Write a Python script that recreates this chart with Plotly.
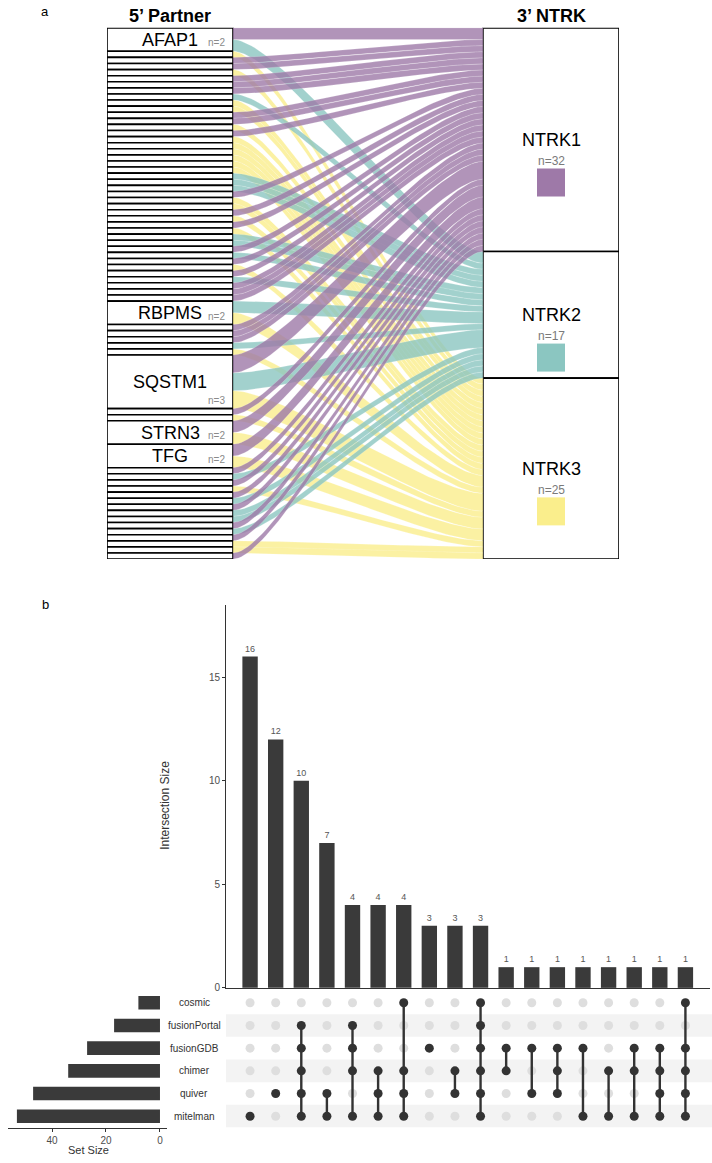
import numpy as np
import plotly.graph_objects as go

W, H = 712, 1163
FONT = "Liberation Sans, Arial, sans-serif"
NARROW = "Liberation Sans Narrow, Liberation Sans, Arial, sans-serif"

# ---------------- Panel a data ----------------
ntrk_genes = ["NTRK1", "NTRK2", "NTRK3"]
# 5' partners, top to bottom (unlabelled partners have a single fusion)
partner_labels = (["AFAP1"] + [""] * 41 + ["RBPMS"] + [""] * 5 + ["SQSTM1"]
                  + [""] * 2 + ["STRN3", "TFG"] + [""] * 15)
# NTRK target of each fusion of each partner ("1" = NTRK1, "2" = NTRK2, "3" = NTRK3)
group1 = list("3113111233" + "1131333333" + "2221331313" + "22121312111")
group2 = list("11123")
group3 = list("13")
group4 = list("121312122121331")
partner_targets = (["12"] + group1 + ["23"] + group2 + ["123"] + group3
                   + ["13", "13"] + group4)

# ---------------- Panel b data ----------------
set_names = ["cosmic", "fusionPortal", "fusionGDB", "chimer", "quiver", "mitelman"]
set_sizes = [8, 17, 27, 34, 47, 53]
intersection_sizes = [16, 12, 10, 7, 4, 4, 4, 3, 3, 3, 1, 1, 1, 1, 1, 1, 1, 1]
intersection_members = [
    ["mitelman"],
    ["quiver"],
    ["fusionPortal", "fusionGDB", "chimer", "quiver", "mitelman"],
    ["quiver", "mitelman"],
    ["fusionPortal", "fusionGDB", "chimer", "mitelman"],
    ["chimer", "quiver", "mitelman"],
    ["cosmic", "chimer", "quiver", "mitelman"],
    ["fusionGDB"],
    ["chimer", "quiver"],
    ["cosmic", "fusionPortal", "fusionGDB", "chimer", "quiver", "mitelman"],
    ["fusionGDB", "chimer"],
    ["fusionGDB", "quiver"],
    ["fusionGDB", "chimer", "quiver"],
    ["fusionGDB", "mitelman"],
    ["chimer", "mitelman"],
    ["fusionGDB", "chimer", "mitelman"],
    ["fusionGDB", "chimer", "quiver", "mitelman"],
    ["cosmic", "fusionGDB", "chimer", "quiver", "mitelman"],
]

# ---------------- styles ----------------
NTRK_RGB = [(158, 121, 168), (139, 198, 193), (250, 238, 140)]
BOX_UNITS = {1: 1.0, 2: 3.85, 3: 8.8}
L_BOX = (0.0, 126.0)
R_BOX = (376.0, 512.0)
KNOT = 0.2
DARK = "#3A3A3A"


def px_y(p):
    return 1 - p / H


def px_x(p):
    return p / W


def rgb(c, a=None):
    if a is None:
        return "rgb(%d,%d,%d)" % c
    return "rgba(%d,%d,%d,%.2f)" % (c[0], c[1], c[2], a)


fig = go.Figure()

# ---------------- Panel a geometry ----------------
n_per_partner = [len(t) for t in partner_targets]
heights = np.array([BOX_UNITS[n] for n in n_per_partner])
tops = np.concatenate([[0.0], np.cumsum(heights)[:-1]])
total_units = float(heights.sum())
ppu = (562 - 28) / total_units  # pixels per unit

flows = []
for i, targ in enumerate(partner_targets):
    w = heights[i] / len(targ)
    for j, g in enumerate(targ):
        flows.append(dict(gi=int(g) - 1, lt=tops[i] + j * w, w=w))

gene_tot = np.array([sum(f["w"] for f in flows if f["gi"] == k) for k in range(3)])
gene_top = np.concatenate([[0.0], np.cumsum(gene_tot)[:-1]])
gene_cnt = [sum(1 for f in flows if f["gi"] == k) for k in range(3)]
cursor = list(gene_top)
for f in sorted(flows, key=lambda f: f["lt"]):
    f["rt"] = cursor[f["gi"]]
    cursor[f["gi"]] += f["w"]

# cubic Bezier flow shape (short curved ends, straight middle)
u = np.linspace(0, 1, 60)
bx_ = 3 * u * (1 - u) ** 2 * KNOT + 3 * u ** 2 * (1 - u) * (1 - KNOT) + u ** 3
by_ = 3 * u ** 2 * (1 - u) + u ** 3
xs = L_BOX[1] + (R_BOX[0] - L_BOX[1]) * bx_
for f in flows:
    top_edge = f["lt"] + (f["rt"] - f["lt"]) * by_
    bot_edge = top_edge + f["w"]
    fig.add_trace(go.Scatter(
        x=np.concatenate([xs, xs[::-1]]),
        y=np.concatenate([top_edge, bot_edge[::-1]]),
        fill="toself", mode="lines",
        fillcolor=rgb(NTRK_RGB[f["gi"]], 0.8),
        line=dict(width=0.4, color="rgba(255,255,255,0.45)"),
        hoverinfo="skip", showlegend=False, xaxis="x", yaxis="y"))

# partner boxes
fig.add_trace(go.Bar(
    x=[(L_BOX[0] + L_BOX[1]) / 2] * len(heights), y=heights, base=tops,
    width=L_BOX[1] - L_BOX[0],
    marker=dict(color="white", line=dict(color="black", width=1.6)),
    hoverinfo="skip", showlegend=False, xaxis="x", yaxis="y"))
# NTRK boxes
fig.add_trace(go.Bar(
    x=[(R_BOX[0] + R_BOX[1]) / 2] * 3, y=gene_tot, base=gene_top,
    width=R_BOX[1] - R_BOX[0],
    marker=dict(color="white", line=dict(color="black", width=1.6)),
    hoverinfo="skip", showlegend=False, xaxis="x", yaxis="y"))
# colour squares
gene_mid = gene_top + gene_tot / 2
fig.add_trace(go.Scatter(
    x=[(R_BOX[0] + R_BOX[1]) / 2] * 3, y=gene_mid + 43 / ppu,
    mode="markers",
    marker=dict(symbol="square", size=28, color=[rgb(c) for c in NTRK_RGB],
                line=dict(width=0)),
    hoverinfo="skip", showlegend=False, xaxis="x", yaxis="y"))

annotations = []
for i, lab in enumerate(partner_labels):
    if not lab:
        continue
    annotations.append(dict(
        x=(L_BOX[0] + L_BOX[1]) / 2, y=tops[i] + heights[i] / 2, xref="x", yref="y",
        xanchor="center", yanchor="middle",
        text=lab, showarrow=False, font=dict(family=FONT, size=18, color="black")))
    annotations.append(dict(
        x=L_BOX[1], y=tops[i] + heights[i], xref="x", yref="y",
        xanchor="right", yanchor="bottom", xshift=-6, yshift=1,
        text="n=%d" % n_per_partner[i], showarrow=False,
        font=dict(family=FONT, size=10, color="#8A8A8A")))
for k, g in enumerate(ntrk_genes):
    annotations.append(dict(
        x=(R_BOX[0] + R_BOX[1]) / 2, y=gene_mid[k], xref="x", yref="y",
        xanchor="center", yanchor="middle",
        text=g, showarrow=False, font=dict(family=FONT, size=18, color="black")))
    annotations.append(dict(
        x=(R_BOX[0] + R_BOX[1]) / 2, y=gene_mid[k], xref="x", yref="y", yshift=-21,
        xanchor="center", yanchor="middle",
        text="n=%d" % gene_cnt[k], showarrow=False,
        font=dict(family=FONT, size=12, color="#7A7A7A")))


def pann(x, y, text, size, color="black", family=FONT, angle=0):
    return dict(x=px_x(x), y=px_y(y), xref="paper", yref="paper", text=text,
                xanchor="center", yanchor="middle", textangle=angle, showarrow=False,
                font=dict(family=family, size=size, color=color))


annotations += [
    pann(170, 16, "<b>5’ Partner</b>", 18),
    pann(551, 16, "<b>3’ NTRK</b>", 18),
    pann(45, 12, "a", 13),
    pann(45, 608, "b", 13),
]

# ---------------- Panel b ----------------
cols = list(range(len(intersection_sizes)))
row_of = {name: len(set_names) - 1 - k for k, name in enumerate(set_names)}

fig.add_trace(go.Bar(
    x=cols, y=intersection_sizes, width=0.6, marker=dict(color=DARK, line=dict(width=0)),
    text=[str(v) for v in intersection_sizes], textposition="outside",
    textfont=dict(size=9, color="#555555", family=NARROW), cliponaxis=False,
    constraintext="none", hoverinfo="skip", showlegend=False, xaxis="x2", yaxis="y2"))

# matrix stripes
shapes = []
for k, name in enumerate(set_names):
    if k % 2 == 1:
        r = row_of[name]
        shapes.append(dict(type="rect", xref="x3 domain", yref="y3", x0=0, x1=1.01,
                           y0=r - 0.5, y1=r + 0.5, fillcolor="#F3F3F3",
                           line=dict(width=0), layer="below"))

gx, gy, bx, by, lx, ly = [], [], [], [], [], []
for c, mem in zip(cols, intersection_members):
    for name in set_names:
        if name in mem:
            bx.append(c); by.append(row_of[name])
        else:
            gx.append(c); gy.append(row_of[name])
    if len(mem) > 1:
        rows = [row_of[m] for m in mem]
        lx += [c, c, None]; ly += [min(rows), max(rows), None]

fig.add_trace(go.Scatter(x=gx, y=gy, mode="markers",
                         marker=dict(size=9, color="#DEDEDE"),
                         hoverinfo="skip", showlegend=False, xaxis="x3", yaxis="y3"))
fig.add_trace(go.Scatter(x=lx, y=ly, mode="lines", line=dict(color="#333333", width=2.4),
                         hoverinfo="skip", showlegend=False, xaxis="x3", yaxis="y3"))
fig.add_trace(go.Scatter(x=bx, y=by, mode="markers",
                         marker=dict(size=9, color="#333333"),
                         hoverinfo="skip", showlegend=False, xaxis="x3", yaxis="y3"))

# set size bars
fig.add_trace(go.Bar(
    x=set_sizes, y=[row_of[n] for n in set_names], orientation="h", width=0.6,
    marker=dict(color=DARK, line=dict(width=0)),
    hoverinfo="skip", showlegend=False, xaxis="x4", yaxis="y4"))

for name in set_names:
    annotations.append(dict(x=px_x(194), y=row_of[name], xref="paper", yref="y3",
                            xanchor="center", yanchor="middle",
                            text=name, showarrow=False,
                            font=dict(family=NARROW, size=10, color="#333333")))
annotations += [
    pann(165, 810, "Intersection Size", 12, "#333333", NARROW, -90),
    pann(88, 1156, "Set Size", 11, "#333333", NARROW),
]

m_dom = [px_y(1133.4), px_y(996.6)]
x_dom = [px_x(226), px_x(710)]
x_rng = [-0.94, 17.96]
tickfont = dict(size=10, color="#4D4D4D", family=NARROW)

fig.update_layout(
    width=W, height=H, margin=dict(l=0, r=0, t=0, b=0),
    paper_bgcolor="white", plot_bgcolor="rgba(0,0,0,0)",
    barmode="overlay", showlegend=False,
    annotations=annotations, shapes=shapes,
    xaxis=dict(domain=[px_x(107), px_x(619)], range=[0, 512], visible=False, fixedrange=True),
    yaxis=dict(domain=[px_y(562), px_y(28)], range=[total_units, 0], visible=False,
               fixedrange=True),
    xaxis2=dict(domain=x_dom, range=x_rng, anchor="y2", showline=True, linecolor="#333333",
                linewidth=1, showticklabels=False, ticks="", showgrid=False, zeroline=False),
    yaxis2=dict(domain=[px_y(993), px_y(608)], range=[0, 18.5], anchor="x2", showline=True,
                linecolor="#333333", linewidth=1, ticks="outside", ticklen=3,
                tickcolor="#333333", tickvals=[0, 5, 10, 15], tickfont=tickfont,
                showgrid=False, zeroline=False),
    xaxis3=dict(domain=x_dom, range=x_rng, anchor="y3", visible=False),
    yaxis3=dict(domain=m_dom, range=[-0.5, 5.5], anchor="x3", visible=False),
    xaxis4=dict(domain=[px_x(8), px_x(167)], range=[56.3, -2.6], anchor="y4", showline=True,
                linecolor="#333333", linewidth=1, ticks="outside", ticklen=3,
                tickcolor="#333333", tickvals=[0, 20, 40], tickfont=tickfont,
                showgrid=False, zeroline=False),
    yaxis4=dict(domain=m_dom, range=[-0.5, 5.5], anchor="x4", visible=False),
)

fig.write_html(
    "out.html",
    config={"displayModeBar": False, "staticPlot": True},
    post_script=(
        "var b=document.body.style;b.margin='0';b.padding='0';b.overflow='hidden';"
        "var d=document.documentElement.style;d.overflow='hidden';"
        "var gd=document.getElementById('{plot_id}');gd.style.position='fixed';"
        "gd.style.top='0px';gd.style.left='0px';"),
)
